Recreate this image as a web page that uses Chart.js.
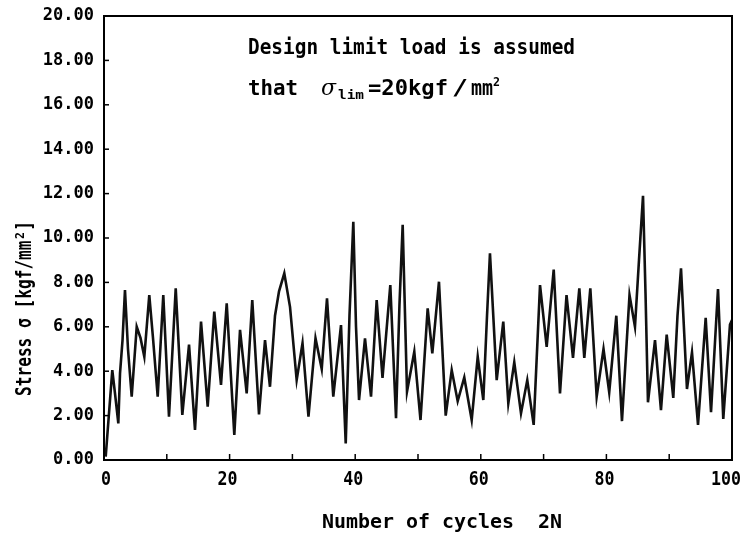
<!DOCTYPE html>
<html>
<head>
<meta charset="utf-8">
<script src="https://cdn.jsdelivr.net/npm/chart.js@4.4.0/dist/chart.umd.min.js"></script>
<style>
  html, body { margin: 0; padding: 0; background: #fff; }
  #wrap { width: 744px; height: 533px; }
</style>
</head>
<body>
<div id="wrap"><canvas id="grafica" width="744" height="533"></canvas></div>
<script>
// datos (ciclos 2N vs tension kgf/mm2)
const cycles = [
  0.27, 1.32, 1.75, 2.28, 2.55, 2.95, 3.34, 3.82, 4.41, 5.21,
  5.81, 6.42, 7.21, 7.80, 8.55, 9.44, 10.35, 11.42, 12.47, 13.54,
  14.49, 15.45, 16.51, 17.56, 18.63, 19.54, 20.75, 21.66, 22.72, 23.61,
  24.68, 25.64, 26.43, 27.23, 27.87, 28.71, 29.62, 30.68, 31.61, 32.56,
  33.68, 34.67, 35.51, 36.51, 37.74, 38.49, 39.09, 39.70, 40.13, 40.61,
  41.56, 42.52, 43.42, 44.35, 45.59, 46.50, 47.05, 47.56, 48.25, 49.41,
  50.40, 51.54, 52.28, 53.34, 54.41, 55.37, 56.32, 57.37, 58.55, 59.51,
  60.40, 60.99, 61.46, 62.53, 63.58, 64.38, 65.33, 66.40, 67.40, 68.42,
  69.43, 70.49, 71.61, 72.61, 73.65, 74.68, 75.69, 76.48, 77.44, 78.45,
  79.54, 80.45, 81.58, 82.48, 83.68, 84.55, 85.19, 85.83, 86.23, 86.62,
  87.74, 88.69, 89.60, 90.65, 91.32, 91.88, 92.83, 93.63, 94.59, 95.81,
  96.66, 97.77, 98.61, 99.68, 100
];
const stress = [
  0.15, 4.05, 3.0, 1.65, 3.9, 5.4, 7.66, 5.0, 2.85, 6.0,
  5.5, 4.65, 7.43, 5.5, 2.85, 7.43, 1.95, 7.73, 2.03, 5.2,
  1.35, 6.23, 2.4, 6.68, 3.38, 7.06, 1.13, 5.86, 3.0, 7.2,
  2.05, 5.4, 3.3, 6.5, 7.6, 8.41, 6.9, 3.6, 5.26, 1.95,
  5.48, 4.1, 7.28, 2.85, 6.08, 0.75, 6.5, 10.73, 6.0, 2.7,
  5.48, 2.85, 7.2, 3.7, 7.88, 1.88, 7.0, 10.59, 3.08, 4.88,
  1.8, 6.83, 4.8, 8.03, 2.0, 4.05, 2.65, 3.72, 1.8, 4.65,
  2.7, 6.5, 9.31, 3.6, 6.23, 2.55, 4.4, 2.1, 3.6, 1.58,
  7.88, 5.1, 8.58, 3.0, 7.43, 4.6, 7.73, 4.6, 7.73, 2.85,
  5.0, 3.05, 6.5, 1.75, 7.43, 6.0, 9.0, 11.9, 7.5, 2.6,
  5.4, 2.25, 5.65, 2.8, 6.5, 8.63, 3.2, 4.85, 1.58, 6.4,
  2.15, 7.7, 1.85, 6.1, 6.3
];

// ejes
const xMin = 0, xMax = 100, xLabelStep = 20, xTickStep = 10;
const yMin = 0, yMax = 20, yStep = 2;

// textos
const anotacion1 = 'Design limit load is assumed';
const anotacion2 = ['that', 'σ', 'lim', '=20kgf', '/', 'mm', '2'];
const tituloX = 'Number of cycles  2N';
const tituloY = 'Stress σ [kgf/mm²]';

const MONO = '"DejaVu Sans Mono", "Liberation Mono", monospace';

// texto condensado: se escala para ocupar el ancho pedido
function textoAjustado(ctx, txt, x, y, size, width, align) {
  ctx.save();
  ctx.font = `bold ${size}px ${MONO}`;
  const sx = width / ctx.measureText(txt).width;
  ctx.translate(align === 'center' ? x - width / 2 : x, y);
  ctx.scale(sx, 1);
  ctx.fillText(txt, 0, 0);
  ctx.restore();
}

// marco, ticks hacia dentro, etiquetas del eje x y textos
const marcoPlugin = {
  id: 'marco',
  afterDraw(chart) {
    const { ctx, chartArea: a, scales } = chart;
    ctx.save();
    ctx.strokeStyle = '#000';
    ctx.fillStyle = '#000';
    ctx.lineWidth = 2;
    ctx.strokeRect(a.left, a.top, a.right - a.left, a.bottom - a.top);

    ctx.lineWidth = 1.5;
    for (let v = xMin + xTickStep; v < xMax; v += xTickStep) {
      const px = scales.x.getPixelForValue(v);
      ctx.beginPath(); ctx.moveTo(px, a.bottom); ctx.lineTo(px, a.bottom - 6); ctx.stroke();
    }
    for (let v = yMin + yStep; v < yMax; v += yStep) {
      const py = scales.y.getPixelForValue(v);
      ctx.beginPath(); ctx.moveTo(a.left, py); ctx.lineTo(a.left + 5, py); ctx.stroke();
    }

    ctx.textBaseline = 'alphabetic';
    // etiquetas del eje x (condensadas para que 100 quepa)
    scales.x.ticks.forEach(t => {
      const txt = String(t.value);
      const px = scales.x.getPixelForValue(t.value);
      const dx = t.value === xMax ? -6 : (t.value === xMin ? 2 : -2);
      textoAjustado(ctx, txt, px + dx, 485, 19, txt.length * 10, 'center');
    });

    textoAjustado(ctx, anotacion1, 248, 54, 21, 327);

    // segunda linea: that σlim = 20kgf/mm2
    textoAjustado(ctx, anotacion2[0], 248, 95, 21, 50);
    ctx.save();
    ctx.font = 'italic 22px "DejaVu Serif", serif';
    ctx.fillText(anotacion2[1], 321, 95);
    ctx.restore();
    textoAjustado(ctx, anotacion2[2], 338, 99, 12, 26);
    textoAjustado(ctx, anotacion2[3], 368, 95, 21, 80);
    textoAjustado(ctx, anotacion2[4], 452, 95, 21, 16);
    textoAjustado(ctx, anotacion2[5], 471, 95, 21, 22);
    textoAjustado(ctx, anotacion2[6], 493, 86, 12, 7);

    // titulos de los ejes
    textoAjustado(ctx, tituloX, 322, 528, 20, 240);
    ctx.save();
    ctx.translate(31, 396);
    ctx.rotate(-Math.PI / 2);
    textoAjustado(ctx, tituloY, 0, 0, 22, 175);
    ctx.restore();

    ctx.restore();
  }
};

const ctx = document.getElementById('grafica').getContext('2d');
const chart = new Chart(ctx, {
  type: 'line',
  data: {
    datasets: [{
      data: cycles.map((c, i) => ({ x: c, y: stress[i] })),
      borderColor: '#111',
      borderWidth: 2.6,
      pointRadius: 0,
      tension: 0,
      fill: false
    }]
  },
  options: {
    responsive: false,
    animation: false,
    layout: { padding: { top: 16, right: 12, left: 0, bottom: 0 } },
    plugins: { legend: { display: false }, tooltip: { enabled: false } },
    scales: {
      x: {
        type: 'linear',
        min: xMin, max: xMax,
        grid: { display: false, drawTicks: false },
        border: { display: false },
        ticks: { stepSize: xLabelStep, display: false },
        afterFit(scale) { scale.height = 73; scale.paddingLeft = 0; scale.paddingRight = 0; }
      },
      y: {
        min: yMin, max: yMax,
        grid: { display: false, drawTicks: false },
        border: { display: false },
        ticks: {
          stepSize: yStep,
          padding: 10,
          color: '#000',
          font: { family: MONO, size: 17, weight: 'bold' },
          callback: v => v.toFixed(2)
        },
        afterFit(scale) { scale.width = 104; scale.paddingTop = 0; scale.paddingBottom = 0; }
      }
    }
  },
  plugins: [marcoPlugin]
});
</script>
</body>
</html>
